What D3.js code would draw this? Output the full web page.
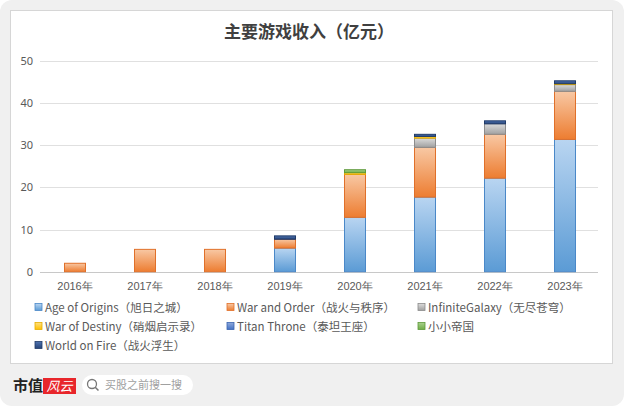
<!DOCTYPE html>
<html><head><meta charset="utf-8">
<script src="https://cdn.jsdelivr.net/npm/d3@7/dist/d3.min.js"></script>
<style>
html,body{margin:0;padding:0;background:#fff;}
svg{display:block;font-family:"Noto Sans CJK SC","Noto Sans",sans-serif;}
</style></head>
<body><svg id="c" width="624" height="406"></svg>
<script>
const years = ["2016年","2017年","2018年","2019年","2020年","2021年","2022年","2023年"];
const seriesNames = ["Age of Origins（旭日之城）","War and Order（战火与秩序）","InfiniteGalaxy（无尽苍穹）","War of Destiny（硝烟启示录）","Titan Throne（泰坦王座）","小小帝国","World on Fire（战火浮生）"];
const ageOfOrigins  = [0,0,0,5.6,12.9,17.7,22.2,31.4];
const warAndOrder   = [2.0,5.3,5.3,2.1,10.2,11.8,10.4,11.4];
const infiniteGalaxy= [0,0,0,0,0,2.2,2.5,1.6];
const warOfDestiny  = [0,0,0,0,0.4,0.4,0,0.2];
const titanThrone   = [0,0,0,0,0,0,0,0];
const xiaoxiaoDiguo = [0,0,0,0,0.7,0,0,0];
const worldOnFire   = [0,0,0,0.8,0,0.5,0.7,0.7];
const yTicks = [0,10,20,30,40,50];
const title = "主要游戏收入（亿元）";

const seriesValues = [ageOfOrigins,warAndOrder,infiniteGalaxy,warOfDestiny,titanThrone,xiaoxiaoDiguo,worldOnFire];
const colors = [
  {top:"#b9d5f1",bot:"#5b9bd5",stroke:"#4a88c8"},
  {top:"#f8c8a4",bot:"#ed7d31",stroke:"#e0702a"},
  {top:"#dcdcdc",bot:"#a0a0a0",stroke:"#8c8c8c"},
  {top:"#ffe080",bot:"#ffc000",stroke:"#e6ad00"},
  {top:"#8fa9dc",bot:"#4472c4",stroke:"#3a64b0"},
  {top:"#a9d18e",bot:"#70ad47",stroke:"#5e9a3a"},
  {top:"#4f73b0",bot:"#264478",stroke:"#1f3a68"}
];

const svg = d3.select("#c");
const defs = svg.append("defs");
colors.forEach((c,i)=>{
  const g = defs.append("linearGradient").attr("id","g"+i).attr("x1",0).attr("y1",0).attr("x2",0).attr("y2",1);
  g.append("stop").attr("offset","0%").attr("stop-color",c.top);
  g.append("stop").attr("offset","100%").attr("stop-color",c.bot);
});

// background
svg.append("rect").attr("x",0).attr("y",0).attr("width",624).attr("height",406).attr("rx",12).attr("fill","#f0f0f0");
svg.append("rect").attr("x",10.5).attr("y",10.5).attr("width",602).attr("height",353).attr("fill","#fff").attr("stroke","#d6d6d6");

svg.append("text").attr("x",309).attr("y",38).attr("text-anchor","middle")
  .attr("font-size",17).attr("font-weight","bold").attr("fill","#404040").text(title);

const x = d3.scaleBand().domain(years).range([40,600]).paddingInner(0.7).paddingOuter(0.35);
const y = d3.scaleLinear().domain([0,50]).range([271.7,61]);

// grid
svg.append("g").selectAll("line").data(yTicks).join("line")
  .attr("x1",40).attr("x2",598).attr("y1",d=>Math.round(y(d))+0.5).attr("y2",d=>Math.round(y(d))+0.5)
  .attr("stroke",d=>d===0?"#c8c8c8":"#e0e0e0");

const yAxis = svg.append("g").attr("transform","translate(40,0)")
  .call(d3.axisLeft(y).tickValues(yTicks).tickSize(0).tickPadding(7));
yAxis.select(".domain").remove();
yAxis.selectAll("text").attr("font-size",11).attr("fill","#595959").attr("font-family","Noto Sans, sans-serif");

const xAxis = svg.append("g").attr("transform","translate(0,272)")
  .call(d3.axisBottom(x).tickSize(0).tickPadding(10));
xAxis.select(".domain").remove();
xAxis.selectAll("text").attr("font-size",11).attr("fill","#595959");

// stacks
const data = years.map((yr,i)=>{const o={year:yr}; seriesValues.forEach((s,j)=>o["s"+j]=s[i]); return o;});
const keys = seriesValues.map((_,j)=>"s"+j);
const stacked = d3.stack().keys(keys)(data);
svg.append("g").selectAll("g").data(stacked).join("g")
  .attr("fill",(d,i)=>"url(#g"+i+")").attr("stroke",(d,i)=>colors[i].stroke).attr("stroke-width",1)
  .selectAll("rect").data(d=>d.filter(p=>p[1]-p[0]>0)).join("rect")
  .attr("x",d=>x(d.data.year)).attr("width",x.bandwidth())
  .attr("y",d=>y(d[1])).attr("height",d=>y(d[0])-y(d[1]));

// legend
const legCols=[35,227,418], legRows=[308,327,346];
const leg = svg.append("g").selectAll("g").data(seriesNames).join("g")
  .attr("transform",(d,i)=>`translate(${legCols[i%3]},${legRows[Math.floor(i/3)]})`);
leg.append("rect").attr("x",0).attr("y",-4.5).attr("width",7).attr("height",7)
  .attr("fill",(d,i)=>"url(#g"+i+")").attr("stroke",(d,i)=>colors[i].stroke).attr("stroke-width",0.8);
leg.append("text").attr("x",10).attr("y",0).attr("dy","0.35em").attr("font-size",11.5).attr("fill","#595959").text(d=>d);

// footer
svg.append("text").attr("x",13).attr("y",391).attr("font-size",15).attr("font-weight","bold").attr("fill","#222").text("市值");
svg.append("rect").attr("x",43).attr("y",378).attr("width",33).attr("height",16).attr("fill","#e8262b");
svg.append("text").attr("x",59.5).attr("y",391).attr("text-anchor","middle").attr("font-size",13).attr("font-style","italic").attr("fill","#fff").text("风云");
svg.append("rect").attr("x",82).attr("y",375).attr("width",111).attr("height",20).attr("rx",10).attr("fill","#fff");
svg.append("circle").attr("cx",92).attr("cy",384).attr("r",4.5).attr("fill","none").attr("stroke","#777").attr("stroke-width",1.3);
svg.append("line").attr("x1",95.2).attr("y1",387.2).attr("x2",98.5).attr("y2",390.5).attr("stroke","#777").attr("stroke-width",1.5);
svg.append("text").attr("x",105).attr("y",389).attr("font-size",11).attr("fill","#a0a0a0").text("买股之前搜一搜");
</script></body></html>
